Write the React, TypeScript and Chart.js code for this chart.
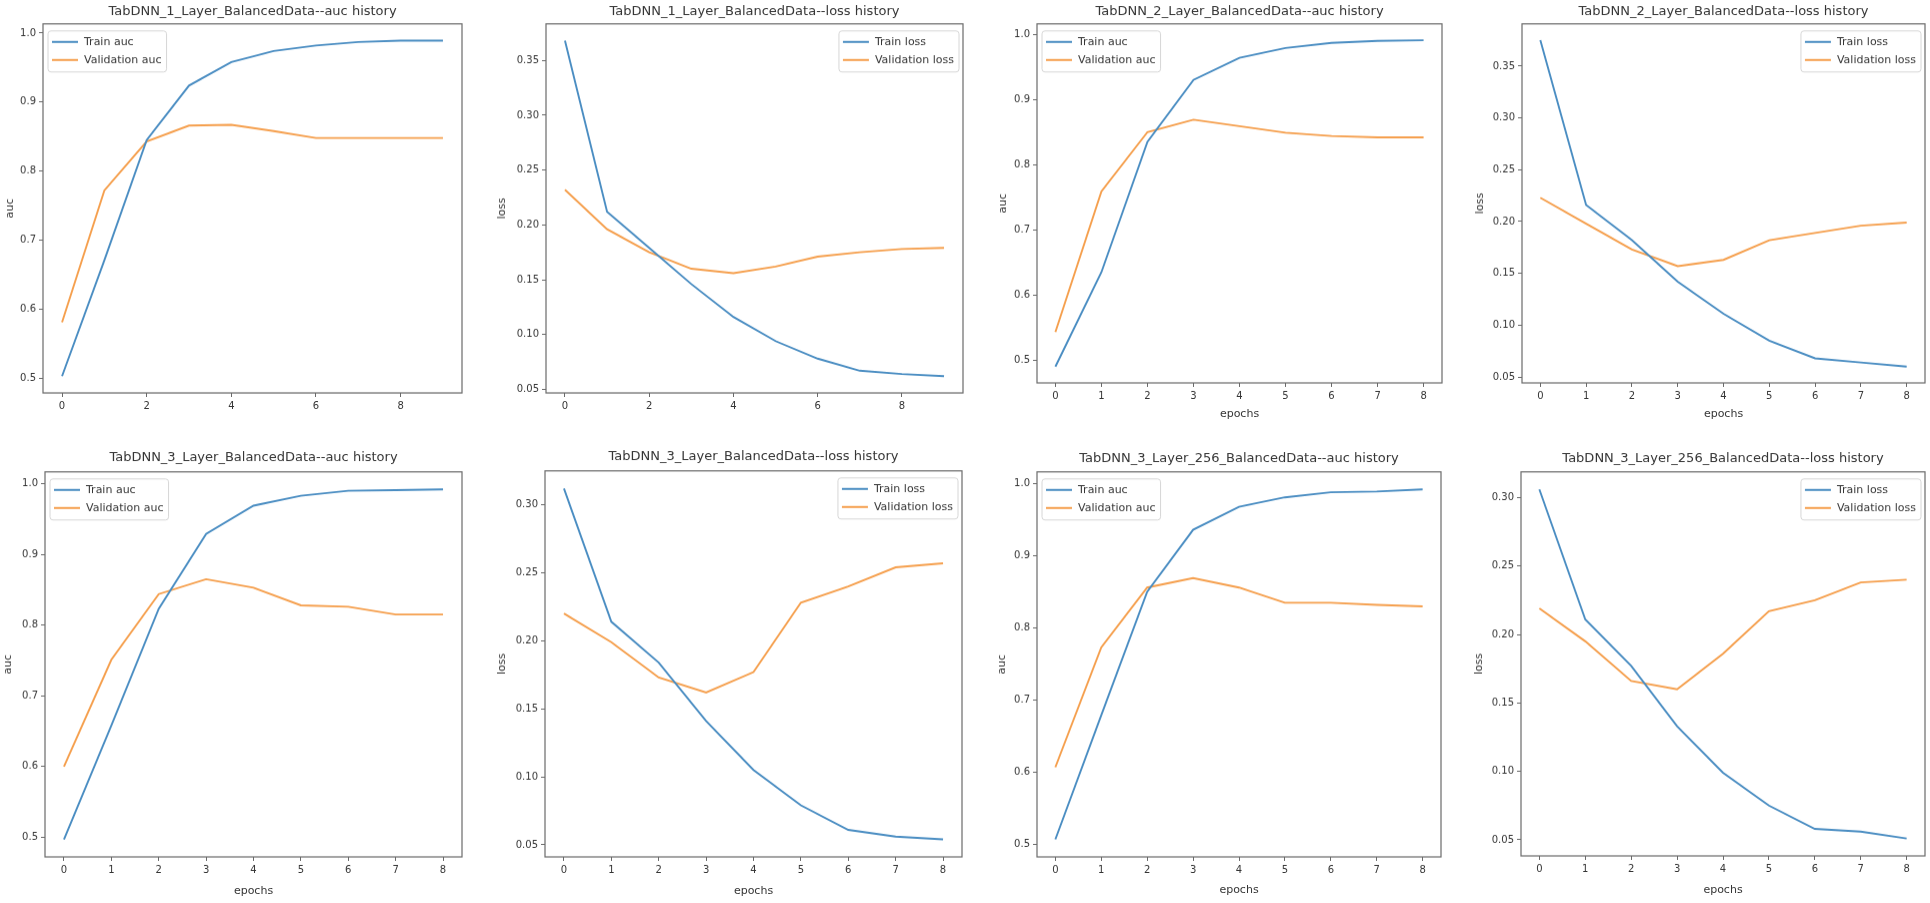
import React, { useEffect, useRef } from "react";
import { Chart, registerables } from "chart.js";

Chart.register(...registerables);

// ---------- data ----------
const epochs10 = [0, 1, 2, 3, 4, 5, 6, 7, 8, 9];
const epochs9 = [0, 1, 2, 3, 4, 5, 6, 7, 8];
const xTicksStep2 = [0, 2, 4, 6, 8];
const xTicksStep1 = [0, 1, 2, 3, 4, 5, 6, 7, 8];
const aucTicks = [0.5, 0.6, 0.7, 0.8, 0.9, 1.0];
const lossTicksTo35 = [0.05, 0.1, 0.15, 0.2, 0.25, 0.3, 0.35];
const lossTicksTo30 = [0.05, 0.1, 0.15, 0.2, 0.25, 0.3];

// TabDNN_1_Layer
const l1TrainAuc = [0.503, 0.671, 0.845, 0.924, 0.958, 0.974, 0.982, 0.987, 0.989, 0.989];
const l1ValAuc = [0.581, 0.772, 0.843, 0.866, 0.867, 0.858, 0.848, 0.848, 0.848, 0.848];
const l1TrainLoss = [0.368, 0.212, 0.179, 0.146, 0.116, 0.094, 0.078, 0.067, 0.064, 0.062];
const l1ValLoss = [0.232, 0.196, 0.175, 0.16, 0.156, 0.162, 0.171, 0.175, 0.178, 0.179];
// TabDNN_2_Layer
const l2TrainAuc = [0.49, 0.635, 0.835, 0.93, 0.964, 0.979, 0.987, 0.99, 0.991];
const l2ValAuc = [0.543, 0.759, 0.85, 0.869, 0.859, 0.849, 0.844, 0.842, 0.842];
const l2TrainLoss = [0.375, 0.216, 0.182, 0.142, 0.111, 0.085, 0.068, 0.064, 0.06];
const l2ValLoss = [0.223, 0.198, 0.173, 0.157, 0.163, 0.182, 0.189, 0.196, 0.199];
// TabDNN_3_Layer
const l3TrainAuc = [0.497, 0.658, 0.823, 0.929, 0.969, 0.983, 0.99, 0.991, 0.992];
const l3ValAuc = [0.6, 0.751, 0.844, 0.865, 0.853, 0.828, 0.826, 0.815, 0.815];
const l3TrainLoss = [0.312, 0.214, 0.184, 0.141, 0.105, 0.079, 0.061, 0.056, 0.054];
const l3ValLoss = [0.22, 0.199, 0.173, 0.162, 0.177, 0.228, 0.24, 0.254, 0.257];
// TabDNN_3_Layer_256
const l3wTrainAuc = [0.507, 0.679, 0.85, 0.936, 0.968, 0.981, 0.988, 0.989, 0.992];
const l3wValAuc = [0.607, 0.773, 0.856, 0.869, 0.856, 0.835, 0.835, 0.832, 0.83];
const l3wTrainLoss = [0.306, 0.211, 0.177, 0.133, 0.099, 0.075, 0.058, 0.056, 0.051];
const l3wValLoss = [0.219, 0.195, 0.166, 0.16, 0.186, 0.217, 0.225, 0.238, 0.24];

// ---------- style ----------
const FONT = '"DejaVu Sans", "Liberation Sans", sans-serif';
const TEXT = "#353535";
const BLUE = "#4a8dc2";
const ORANGE = "#f59f4d";
const SPINE = "#6a6a6a";
const TITLE_SIZE = 13;
const TICK_SIZE = 10;
const LABEL_SIZE = 11;
const LEGEND_SIZE = 11;

type Panel = {
  title: string;
  yLabel: string;
  xLabel: string;
  epochs: number[];
  xTicks: number[];
  yTicks: number[];
  yDecimals: number;
  train: number[];
  val: number[];
  trainLabel: string;
  valLabel: string;
  legend: "left" | "right";
  box: { L: number; T: number; R: number; B: number };
  axisW: number;
  xAxisH: number;
  titleGap: number;
};

const panels: Panel[] = [
  {
    title: "TabDNN_1_Layer_BalancedData--auc history", yLabel: "auc", xLabel: "",
    epochs: epochs10, xTicks: xTicksStep2, yTicks: aucTicks, yDecimals: 1,
    train: l1TrainAuc, val: l1ValAuc, trainLabel: "Train auc", valLabel: "Validation auc",
    legend: "left", box: { L: 43, T: 24, R: 462, B: 393 }, axisW: 40, xAxisH: 26, titleGap: 12,
  },
  {
    title: "TabDNN_1_Layer_BalancedData--loss history", yLabel: "loss", xLabel: "",
    epochs: epochs10, xTicks: xTicksStep2, yTicks: lossTicksTo35, yDecimals: 2,
    train: l1TrainLoss, val: l1ValLoss, trainLabel: "Train loss", valLabel: "Validation loss",
    legend: "right", box: { L: 546, T: 24, R: 963, B: 393 }, axisW: 51, xAxisH: 26, titleGap: 12,
  },
  {
    title: "TabDNN_2_Layer_BalancedData--auc history", yLabel: "auc", xLabel: "epochs",
    epochs: epochs9, xTicks: xTicksStep1, yTicks: aucTicks, yDecimals: 1,
    train: l2TrainAuc, val: l2ValAuc, trainLabel: "Train auc", valLabel: "Validation auc",
    legend: "left", box: { L: 1037, T: 24, R: 1442, B: 383 }, axisW: 41, xAxisH: 39, titleGap: 12,
  },
  {
    title: "TabDNN_2_Layer_BalancedData--loss history", yLabel: "loss", xLabel: "epochs",
    epochs: epochs9, xTicks: xTicksStep1, yTicks: lossTicksTo35, yDecimals: 2,
    train: l2TrainLoss, val: l2ValLoss, trainLabel: "Train loss", valLabel: "Validation loss",
    legend: "right", box: { L: 1522, T: 24, R: 1925, B: 383 }, axisW: 49, xAxisH: 39, titleGap: 12,
  },
  {
    title: "TabDNN_3_Layer_BalancedData--auc history", yLabel: "auc", xLabel: "epochs",
    epochs: epochs9, xTicks: xTicksStep1, yTicks: aucTicks, yDecimals: 1,
    train: l3TrainAuc, val: l3ValAuc, trainLabel: "Train auc", valLabel: "Validation auc",
    legend: "left", box: { L: 45, T: 472, R: 462, B: 857 }, axisW: 44, xAxisH: 42, titleGap: 14,
  },
  {
    title: "TabDNN_3_Layer_BalancedData--loss history", yLabel: "loss", xLabel: "epochs",
    epochs: epochs9, xTicks: xTicksStep1, yTicks: lossTicksTo30, yDecimals: 2,
    train: l3TrainLoss, val: l3ValLoss, trainLabel: "Train loss", valLabel: "Validation loss",
    legend: "right", box: { L: 545, T: 471, R: 962, B: 857 }, axisW: 50, xAxisH: 42, titleGap: 14,
  },
  {
    title: "TabDNN_3_Layer_256_BalancedData--auc history", yLabel: "auc", xLabel: "epochs",
    epochs: epochs9, xTicks: xTicksStep1, yTicks: aucTicks, yDecimals: 1,
    train: l3wTrainAuc, val: l3wValAuc, trainLabel: "Train auc", valLabel: "Validation auc",
    legend: "left", box: { L: 1037, T: 472, R: 1441, B: 857 }, axisW: 42, xAxisH: 41, titleGap: 13,
  },
  {
    title: "TabDNN_3_Layer_256_BalancedData--loss history", yLabel: "loss", xLabel: "epochs",
    epochs: epochs9, xTicks: xTicksStep1, yTicks: lossTicksTo30, yDecimals: 2,
    train: l3wTrainLoss, val: l3wValLoss, trainLabel: "Train loss", valLabel: "Validation loss",
    legend: "right", box: { L: 1521, T: 472, R: 1925, B: 856 }, axisW: 49, xAxisH: 42, titleGap: 13,
  },
];

const TITLE_PAD_TOP = 2;

function titleHeight(p: Panel) {
  return TITLE_PAD_TOP + TITLE_SIZE * 1.2 + (p.titleGap - TITLE_SIZE * 0.6);
}

// frame around the axes + matplotlib-like legend inside the plot
const framePlugin = {
  id: "mplFrame",
  afterDatasetsDraw(chart: any, _args: any, opts: any) {
    const { ctx, chartArea } = chart;
    const { left, top, right, bottom } = chartArea;
    ctx.save();
    // legend
    const items = chart.data.datasets.map((d: any) => ({ label: d.label, color: d.borderColor }));
    ctx.font = `${LEGEND_SIZE}px ${FONT}`;
    const textW = Math.max(...items.map((it: any) => ctx.measureText(it.label).width));
    const padL = 4, lineLen = 26, gap = 6, padR = 5, rowH = 18;
    const w = padL + lineLen + gap + textW + padR;
    const h = 11 + rowH + 12;
    const bx = opts.position === "left" ? left + 5 : right - 4 - w;
    const by = top + 7;
    ctx.beginPath();
    if ((ctx as any).roundRect) (ctx as any).roundRect(bx, by, w, h, 3);
    else ctx.rect(bx, by, w, h);
    ctx.fillStyle = "rgba(255,255,255,0.85)";
    ctx.fill();
    ctx.strokeStyle = "#d6d6d6";
    ctx.lineWidth = 1;
    ctx.stroke();
    items.forEach((it: any, i: number) => {
      const cy = by + 11 + i * rowH;
      ctx.beginPath();
      ctx.moveTo(bx + padL, cy);
      ctx.lineTo(bx + padL + lineLen, cy);
      ctx.strokeStyle = it.color;
      ctx.lineWidth = 2;
      ctx.stroke();
      ctx.fillStyle = TEXT;
      ctx.textBaseline = "middle";
      ctx.textAlign = "left";
      ctx.fillText(it.label, bx + padL + lineLen + gap, cy + 0.5);
    });
    // spines
    ctx.strokeStyle = SPINE;
    ctx.lineWidth = 1.2;
    ctx.strokeRect(left, top, right - left, bottom - top);
    ctx.restore();
  },
};

function PanelChart({ p }: { p: Panel }) {
  const ref = useRef<HTMLCanvasElement>(null);
  const titleH = titleHeight(p);
  const left = p.box.L - p.axisW;
  const top = p.box.T - titleH;
  const width = p.box.R - p.box.L + 2 * p.axisW;
  const height = titleH + (p.box.B - p.box.T) + p.xAxisH;

  useEffect(() => {
    if (!ref.current) return;
    const all = [...p.train, ...p.val];
    const mn = Math.min(...all);
    const mx = Math.max(...all);
    const yMargin = (mx - mn) * 0.05;
    const last = p.epochs[p.epochs.length - 1];
    const xMargin = last * 0.05;

    const chart = new Chart(ref.current, {
      type: "line",
      data: {
        datasets: [
          {
            label: p.trainLabel,
            data: p.epochs.map((e, i) => ({ x: e, y: p.train[i] })),
            borderColor: BLUE,
            backgroundColor: BLUE,
            borderWidth: 1.9,
            pointRadius: 0,
            tension: 0,
          },
          {
            label: p.valLabel,
            data: p.epochs.map((e, i) => ({ x: e, y: p.val[i] })),
            borderColor: ORANGE,
            backgroundColor: ORANGE,
            borderWidth: 1.9,
            pointRadius: 0,
            tension: 0,
          },
        ],
      },
      options: {
        animation: false,
        responsive: false,
        events: [],
        layout: { padding: 0 },
        plugins: {
          legend: { display: false },
          tooltip: { enabled: false },
          title: {
            display: true,
            text: p.title,
            color: TEXT,
            font: { family: FONT, size: TITLE_SIZE, weight: "normal" },
            padding: { top: TITLE_PAD_TOP, bottom: p.titleGap - TITLE_SIZE * 0.6 },
          },
          mplFrame: { position: p.legend },
        } as any,
        scales: {
          x: {
            type: "linear",
            min: -xMargin,
            max: last + xMargin,
            afterBuildTicks: (s: any) => {
              s.ticks = p.xTicks.map((v) => ({ value: v }));
            },
            afterFit: (s: any) => {
              s.height = p.xAxisH;
            },
            grid: { drawOnChartArea: false, drawTicks: true, tickLength: 4, color: SPINE, lineWidth: 1 },
            border: { display: false },
            ticks: {
              color: TEXT,
              font: { family: FONT, size: TICK_SIZE },
              padding: 3,
              maxRotation: 0,
              callback: (v: any) => String(v),
            },
            title: {
              display: p.xLabel !== "",
              text: p.xLabel,
              color: TEXT,
              font: { family: FONT, size: LABEL_SIZE },
              padding: { top: 0, bottom: 1 },
            },
          },
          y: {
            type: "linear",
            min: mn - yMargin,
            max: mx + yMargin,
            afterBuildTicks: (s: any) => {
              s.ticks = p.yTicks.map((v) => ({ value: v }));
            },
            afterFit: (s: any) => {
              s.width = p.axisW;
            },
            grid: { drawOnChartArea: false, drawTicks: true, tickLength: 4, color: SPINE, lineWidth: 1 },
            border: { display: false },
            ticks: {
              color: TEXT,
              font: { family: FONT, size: TICK_SIZE },
              padding: 3,
              callback: (v: any) => Number(v).toFixed(p.yDecimals),
            },
            title: {
              display: true,
              text: p.yLabel,
              color: TEXT,
              font: { family: FONT, size: LABEL_SIZE },
              padding: { top: 1, bottom: 0 },
            },
          },
          yRight: {
            type: "linear",
            position: "right",
            display: true,
            grid: { display: false },
            border: { display: false },
            ticks: { display: false },
            afterFit: (s: any) => {
              s.width = p.axisW;
            },
          },
        },
      } as any,
      plugins: [framePlugin],
    });
    return () => chart.destroy();
  }, []);

  return (
    <canvas
      ref={ref}
      width={width}
      height={height}
      style={{ position: "absolute", left, top, width, height }}
    />
  );
}

export default function App() {
  return (
    <div
      style={{
        position: "fixed",
        left: 0,
        top: 0,
        width: 1930,
        height: 903,
        background: "#ffffff",
        overflow: "hidden",
      }}
    >
      {panels.map((p, i) => (
        <PanelChart key={i} p={p} />
      ))}
    </div>
  );
}
